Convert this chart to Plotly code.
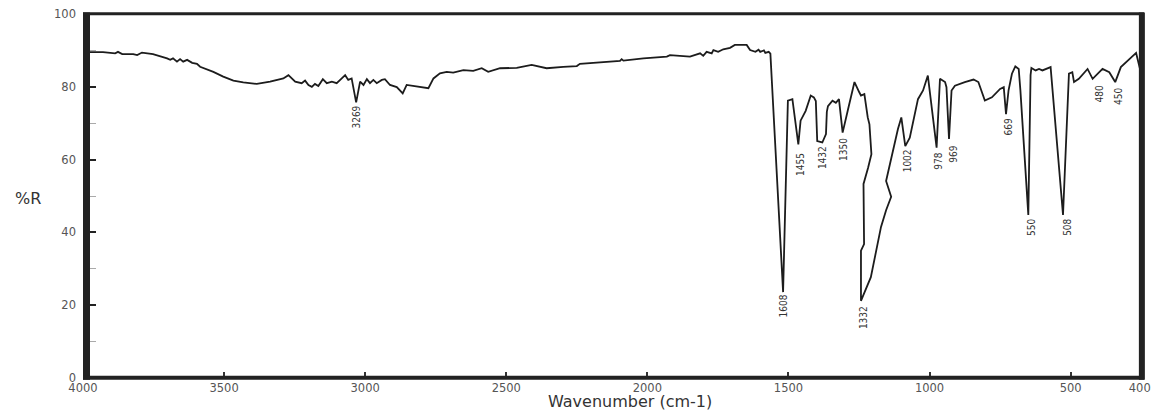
import plotly.graph_objects as go

# Spectrum trace (axis units: wavenumber as drawn, %R)
wavenumber = [4000, 3989, 3929, 3886, 3876, 3861, 3822, 3808, 3791, 3752, 3727, 3702, 3691, 3681, 3667,
              3656, 3645, 3631, 3613, 3596, 3585, 3538, 3503, 3467, 3432, 3384, 3337, 3290, 3272, 3248,
              3225, 3213, 3201, 3189, 3178, 3166, 3150, 3136, 3118, 3101, 3083, 3071, 3060, 3048, 3032,
              3018, 3006, 2994, 2983, 2971, 2959, 2941, 2930, 2912, 2888, 2867, 2853, 2817, 2776, 2758,
              2735, 2711, 2688, 2652, 2617, 2587, 2564, 2522, 2463, 2410, 2380, 2357, 2298, 2250, 2239,
              2168, 2097, 2091, 2085, 2014, 1931, 1920, 1849, 1813, 1802, 1790, 1772, 1766, 1749, 1731,
              1707, 1690, 1648, 1636, 1617, 1606, 1600, 1587, 1582, 1570, 1564, 1519, 1502, 1486, 1465,
              1457, 1439, 1421, 1410, 1403, 1398, 1380, 1367, 1364, 1360, 1344, 1332, 1321, 1308, 1290,
              1266, 1249, 1243, 1231, 1225, 1219, 1213, 1206, 1218, 1234, 1232, 1243, 1243, 1208, 1172,
              1154, 1136, 1154, 1112, 1100, 1086, 1070, 1041, 1023, 1006, 975, 963, 945, 940, 931,
              922, 910, 875, 844, 827, 804, 779, 750, 737, 729, 720, 708, 696, 684, 678,
              650, 642, 639, 624, 612, 600, 588, 571, 527, 506, 494, 488, 471, 440, 422,
              387, 363, 342, 322, 297, 268, 250, 240]
reflectance = [89.5, 89.5, 89.5, 89.2, 89.6, 89.0, 89.0, 88.7, 89.4, 89.0, 88.5, 87.8, 87.4, 87.8, 86.9,
               87.6, 86.9, 87.4, 86.6, 86.3, 85.5, 84.1, 82.8, 81.7, 81.2, 80.8, 81.4, 82.3, 83.2, 81.4,
               81.0, 81.7, 80.5, 80.0, 80.8, 80.2, 82.1, 81.0, 81.4, 81.0, 82.3, 83.2, 81.9, 82.3, 75.7,
               81.4, 80.5, 82.1, 81.0, 81.9, 81.0, 81.9, 82.1, 80.5, 79.9, 78.2, 80.5, 80.0, 79.6, 82.3,
               83.7, 84.1, 83.9, 84.6, 84.4, 85.1, 84.1, 85.1, 85.2, 86.0, 85.5, 85.1, 85.5, 85.7, 86.3,
               86.8, 87.1, 87.6, 87.2, 87.8, 88.3, 88.7, 88.3, 89.2, 88.5, 89.6, 89.2, 90.1, 89.6, 90.3,
               90.7, 91.5, 91.5, 90.1, 89.6, 90.2, 89.6, 90.0, 89.3, 89.6, 89.1, 23.6, 76.2, 76.6, 64.2,
               70.7, 73.4, 77.6, 77.1, 76.1, 65.1, 64.7, 67.0, 73.1, 74.7, 76.2, 75.6, 76.6, 67.4, 73.4,
               81.3, 78.5, 77.6, 78.0, 74.5, 71.6, 69.7, 61.5, 57.7, 53.3, 36.8, 35.0, 21.2, 27.7, 41.5,
               46.1, 49.8, 54.1, 68.4, 71.6, 63.7, 66.0, 76.6, 79.0, 83.1, 63.3, 82.2, 81.3, 79.9, 65.7,
               79.0, 80.3, 81.3, 82.0, 81.3, 76.2, 77.1, 79.4, 79.9, 72.5, 79.0, 83.6, 85.6, 84.9, 79.0,
               44.8, 83.2, 85.2, 84.5, 84.9, 84.5, 84.9, 85.4, 44.8, 83.6, 84.0, 81.3, 82.2, 84.9, 82.2,
               84.9, 84.0, 81.3, 85.4, 87.3, 89.3, 83.6, 83.4]

# Peak labels and where they sit
peak_text = ["3269", "1608", "1455", "1432", "1350", "1332", "1002", "978", "969", "669",
             "550", "508", "480", "450"]
peak_x = [3032, 1519, 1457, 1380, 1305, 1234, 1079, 969, 916, 722, 639, 512, 399, 333]
peak_y = [75.3, 23.4, 62.4, 64.2, 66.5, 20.3, 63.3, 62.4, 64.3, 72.0, 44.2, 44.2, 80.8, 80.3]

x_tickvals = [4000, 3500, 3000, 2500, 2000, 1500, 1000, 500, 255]
x_ticktext = ["4000", "3500", "3000", "2500", "2000", "1500", "1000", "500", "400"]
y_tickvals = [0, 20, 40, 60, 80, 100]

fig = go.Figure()
fig.add_trace(go.Scatter(x=wavenumber, y=reflectance, mode="lines",
                         line=dict(color="#1c1c1c", width=1.8), hoverinfo="skip",
                         showlegend=False))

for t, px, py in zip(peak_text, peak_x, peak_y):
    fig.add_annotation(x=px, y=py, text=t, showarrow=False, textangle=-90,
                       xanchor="center", yanchor="top",
                       font=dict(family="Liberation Sans Narrow, DejaVu Sans Condensed, Arial Narrow, sans-serif",
                                 size=10, color="#333333"))

tick_font = dict(family="DejaVu Sans, Verdana, sans-serif", size=11.5, color="#555555")

fig.update_xaxes(range=[4000, 240], tickvals=x_tickvals, ticktext=x_ticktext,
                 ticks="inside", ticklen=6, tickwidth=1.5, tickcolor="#333333",
                 showgrid=False, zeroline=False, showline=False, automargin=False,
                 tickfont=tick_font, ticklabelstandoff=1, ticklabeloverflow="allow")
fig.update_yaxes(range=[0, 100], tickvals=y_tickvals, automargin=False,
                 ticks="inside", ticklen=13, tickwidth=2, tickcolor="#222222",
                 minor=dict(ticks="inside", ticklen=13, tickwidth=1, tickcolor="#aaaaaa",
                            tickvals=[10, 30, 50, 70, 90]),
                 showgrid=False, zeroline=False, showline=False,
                 tickfont=tick_font, ticklabelstandoff=6)

# frame
frame_color = "#222222"
fig.add_shape(type="line", xref="paper", yref="paper", x0=0.0033, x1=0.0033, y0=-0.005, y1=1.004,
              line=dict(color=frame_color, width=7))
fig.add_shape(type="line", xref="paper", yref="paper", x0=0, x1=1, y0=0.001, y1=0.001,
              line=dict(color=frame_color, width=4))
fig.add_shape(type="line", xref="paper", yref="paper", x0=0, x1=1, y0=1.001, y1=1.001,
              line=dict(color=frame_color, width=3))
fig.add_shape(type="line", xref="paper", yref="paper", x0=0.998, x1=0.998, y0=-0.005, y1=1.004,
              line=dict(color=frame_color, width=6))

title_font = dict(family="DejaVu Sans, Verdana, sans-serif", size=16, color="#333333")
fig.add_annotation(xref="paper", yref="paper", x=-0.0518, y=0.4945, text="%R",
                   showarrow=False, xanchor="center", yanchor="middle", font=title_font)
fig.add_annotation(xref="paper", yref="paper", x=0.5155, y=-0.0659, text="Wavenumber (cm-1)",
                   showarrow=False, xanchor="center", yanchor="middle", borderpad=0,
                   font=dict(family="DejaVu Sans, Verdana, sans-serif", size=16, color="#333333"))

fig.update_layout(width=1152, height=411, margin=dict(l=83, r=8, t=14, b=33, autoexpand=False),
                  paper_bgcolor="white", plot_bgcolor="white")

fig.write_html("out.html", config={"displayModeBar": False},
               post_script="document.body.style.margin='0px';document.body.style.overflow='hidden';")
